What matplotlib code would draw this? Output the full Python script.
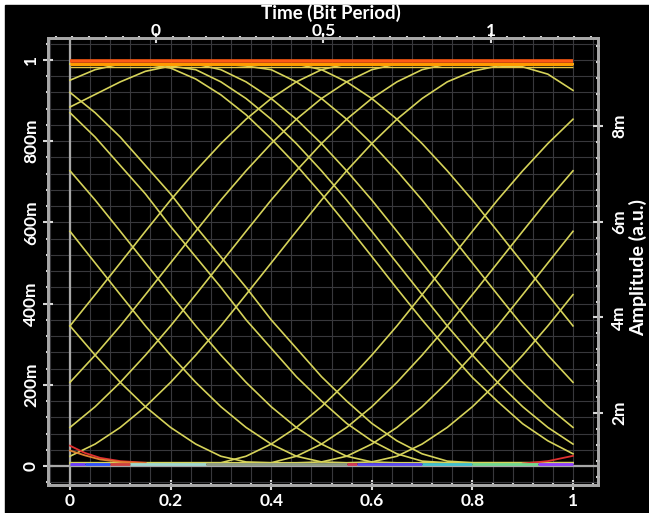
import matplotlib
matplotlib.use("Agg")
import matplotlib.pyplot as plt
from matplotlib.patches import Rectangle
from matplotlib.ticker import MultipleLocator

plt.rcParams['font.family'] = ['Lato', 'DejaVu Sans']
plt.rcParams['font.weight'] = 'bold'

# time axis (0..1 = 1.5 bit periods), sampled every 0.05
t = [0.0, 0.05, 0.1, 0.15, 0.2, 0.25, 0.3, 0.35, 0.4, 0.45, 0.5,
     0.55, 0.6, 0.65, 0.7, 0.75, 0.8, 0.85, 0.9, 0.95, 1.0]

# rising edges (left half)
rise_a = [0.345, 0.422, 0.5, 0.578, 0.655, 0.727, 0.794, 0.854, 0.905, 0.946, 0.976,
          0.99, 0.99, 0.99, 0.99, 0.99, 0.99, 0.99, 0.99, 0.99, 0.99]
rise_b = [0.206, 0.273, 0.345, 0.422, 0.5, 0.578, 0.655, 0.727, 0.794, 0.854, 0.905,
          0.946, 0.976, 0.99, 0.99, 0.99, 0.99, 0.99, 0.99, 0.99, 0.99]
rise_c = [0.095, 0.146, 0.206, 0.273, 0.345, 0.422, 0.5, 0.578, 0.655, 0.727, 0.794,
          0.854, 0.905, 0.946, 0.976, 0.99, 0.99, 0.99, 0.99, 0.99, 0.99]
arc_right = [0.024, 0.054, 0.095, 0.146, 0.206, 0.273, 0.345, 0.422, 0.5, 0.578, 0.655,
             0.727, 0.794, 0.854, 0.905, 0.946, 0.972, 0.985, 0.983, 0.965, 0.925]
# falling edges (left half)
fall_a = [0.345, 0.273, 0.206, 0.146, 0.095, 0.054, 0.024, 0.01, 0.008, 0.008, 0.01,
          0.024, 0.054, 0.095, 0.146, 0.206, 0.273, 0.345, 0.422, 0.5, 0.578]
fall_b = [0.578, 0.5, 0.422, 0.345, 0.273, 0.206, 0.146, 0.095, 0.054, 0.024, 0.01,
          0.008, 0.01, 0.024, 0.054, 0.095, 0.146, 0.206, 0.273, 0.345, 0.422]
fall_c = [0.727, 0.655, 0.578, 0.5, 0.422, 0.345, 0.273, 0.206, 0.146, 0.095, 0.054,
          0.024, 0.01, 0.008, 0.008, 0.008, 0.008, 0.008, 0.008, 0.008, 0.008]
fall_d = [0.87, 0.81, 0.74, 0.67, 0.59, 0.515, 0.44, 0.36, 0.29, 0.22, 0.16,
          0.105, 0.062, 0.03, 0.012, 0.008, 0.008, 0.008, 0.008, 0.008, 0.008]
fall_e = [0.92, 0.87, 0.81, 0.74, 0.67, 0.59, 0.515, 0.44, 0.36, 0.29, 0.22,
          0.16, 0.105, 0.062, 0.03, 0.012, 0.008, 0.008, 0.008, 0.008, 0.008]
arc_left = [0.884, 0.915, 0.946, 0.972, 0.985, 0.976, 0.946, 0.905, 0.854, 0.794, 0.727,
            0.655, 0.578, 0.5, 0.422, 0.345, 0.273, 0.206, 0.146, 0.095, 0.054]
flat_top = [0.95, 0.976, 0.99, 0.99, 0.99, 0.99, 0.99, 0.985, 0.976, 0.946, 0.905,
            0.854, 0.794, 0.727, 0.655, 0.578, 0.5, 0.422, 0.345, 0.273, 0.206]
# falling edges (right half)
fall_f = [0.99, 0.99, 0.99, 0.99, 0.98, 0.953, 0.914, 0.865, 0.806, 0.741, 0.67,
          0.594, 0.516, 0.437, 0.36, 0.287, 0.218, 0.159, 0.104, 0.062, 0.03]
fall_g = [0.99, 0.99, 0.99, 0.99, 0.99, 0.99, 0.976, 0.946, 0.905, 0.854, 0.794,
          0.727, 0.655, 0.578, 0.5, 0.422, 0.345, 0.273, 0.206, 0.146, 0.095]
fall_h = [0.99, 0.99, 0.99, 0.99, 0.99, 0.99, 0.99, 0.99, 0.99, 0.99, 0.976,
          0.946, 0.905, 0.854, 0.794, 0.727, 0.655, 0.578, 0.5, 0.422, 0.345]
# rising edges (right half)
rise_d = [0.008, 0.008, 0.008, 0.008, 0.008, 0.008, 0.008, 0.024, 0.054, 0.095, 0.146,
          0.206, 0.273, 0.345, 0.422, 0.5, 0.578, 0.655, 0.727, 0.794, 0.854]
rise_e = [0.008, 0.008, 0.008, 0.008, 0.008, 0.008, 0.008, 0.008, 0.008, 0.024, 0.054,
          0.095, 0.146, 0.206, 0.273, 0.345, 0.422, 0.5, 0.578, 0.655, 0.727]

yellow_traces = [rise_a, rise_b, rise_c, arc_right, fall_a, fall_b, fall_c, fall_d,
                 fall_e, arc_left, flat_top, fall_f, fall_g, fall_h, rise_d, rise_e]

# short red tails near the 0 level
tail_t = [0.0, 0.03, 0.06, 0.1, 0.15]
tail_red = [0.05, 0.032, 0.02, 0.012, 0.008]
tail_orange = [0.038, 0.026, 0.016, 0.01, 0.007]
tail_r_t = [0.9, 0.95, 1.0]
tail_r_red = [0.006, 0.012, 0.025]

# dense "1" level band
top_levels = [0.997, 0.99, 0.982]
top_colors = ['#ff5a14', '#ff9a00', '#e8c846']
top_widths = [2.6, 2.2, 1.0]

# dense "0" level band, coloured by persistence
bot_x0 = [0.0, 0.03, 0.08, 0.12, 0.27, 0.55, 0.57, 0.7, 0.8, 0.93]
bot_x1 = [0.03, 0.08, 0.12, 0.27, 0.55, 0.57, 0.7, 0.8, 0.93, 1.0]
bot_colors = ['#6a3cff', '#3050ff', '#d04040', '#a0d8d0', '#8c9a84', '#d03a5a',
              '#5a48f0', '#40c0d0', '#70d890', '#9040ff']

fig = plt.figure(figsize=(6.49, 5.13), dpi=100, facecolor='white')
fig.patches.append(Rectangle((5 / 649, 0), 1, 508 / 513, transform=fig.transFigure,
                             color='black', zorder=-10))

ax = fig.add_axes([48 / 649, 28 / 513, 550 / 649, 447 / 513])
ax.set_facecolor('black')
ax.set_xlim(-0.0437, 1.0497)
ax.set_ylim(-0.0468, 1.054)

ax.grid(which='both', color='#38383c', lw=0.8)
ax.set_axisbelow(True)
ax.axvline(0, color='#a8a8a8', lw=1.6, zorder=1)
ax.axhline(0, color='#a8a8a8', lw=1.6, zorder=1)

for tr in yellow_traces:
    ax.plot(t, tr, color='#d6d35a', lw=1.2, zorder=2)

ax.plot(tail_t, tail_red, color='#e03030', lw=1.3, zorder=3)
ax.plot(tail_t, tail_orange, color='#e08030', lw=1.3, zorder=3)
ax.plot(tail_r_t, tail_r_red, color='#e03030', lw=1.3, zorder=3)

for lev, c, w in zip(top_levels, top_colors, top_widths):
    ax.plot([0, 1], [lev, lev], color=c, lw=w, zorder=4, solid_capstyle='butt')

for a, b, c in zip(bot_x0, bot_x1, bot_colors):
    ax.plot([a, b], [0.004, 0.004], color=c, lw=2.0, zorder=4, solid_capstyle='butt')

spine_c = '#a8a8a8'
tick_c = '#d8d8d8'
lab_size = 12.5

ax.set_xticks([0, 0.2, 0.4, 0.6, 0.8, 1.0], ['0', '0.2', '0.4', '0.6', '0.8', '1'])
ax.xaxis.set_minor_locator(MultipleLocator(0.04))
ax.set_yticks([0, 0.2, 0.4, 0.6, 0.8, 1.0], ['0', '200m', '400m', '600m', '800m', '1'],
              rotation=90, va='center')
ax.yaxis.set_minor_locator(MultipleLocator(0.04))
ax.tick_params(which='major', direction='inout', length=7, width=1.5, color=tick_c,
               labelcolor='white', labelsize=lab_size)
ax.tick_params(axis='x', which='major', pad=2)
ax.tick_params(axis='y', which='major', pad=3)
ax.tick_params(which='minor', direction='inout', length=3, width=1.5, color=tick_c)

# top axis: time in bit periods
axt = ax.twiny()
axt.set_xlim(-0.3227, 1.3206)
axt.set_xticks([0, 0.5, 1.0], ['0', '0.5', '1'])
axt.xaxis.set_minor_locator(MultipleLocator(0.05))
axt.tick_params(which='major', direction='inout', length=7, width=1.5, color=tick_c,
                labelcolor='white', labelsize=lab_size, pad=-4.5)
axt.tick_params(which='minor', direction='inout', length=3, width=1.5, color=tick_c)

# right axis: amplitude
axr = ax.twinx()
axr.set_ylim(0.5e-3, 9.84e-3)
axr.set_yticks([2e-3, 4e-3, 6e-3, 8e-3], ['2m', '4m', '6m', '8m'], rotation=90, va='center')
axr.yaxis.set_minor_locator(MultipleLocator(2e-3 / 6))
axr.tick_params(which='major', direction='inout', length=7, width=1.5, color=tick_c,
                labelcolor='white', labelsize=lab_size, pad=6)
axr.tick_params(which='minor', direction='inout', length=3, width=1.5, color=tick_c)

for a in (ax, axt, axr):
    for s in a.spines.values():
        s.set_color(spine_c)
        s.set_linewidth(1.8)

fig.text(331 / 649, 1 - 12.5 / 513, 'Time (Bit Period)', ha='center', va='center',
         color='white', fontsize=13.5, fontweight='bold')
fig.text(638 / 649, 1 - 268 / 513, 'Amplitude (a.u.)', ha='center', va='center',
         rotation=90, color='white', fontsize=14, fontweight='bold')

fig.savefig('out.png', dpi=100, facecolor=fig.get_facecolor())
